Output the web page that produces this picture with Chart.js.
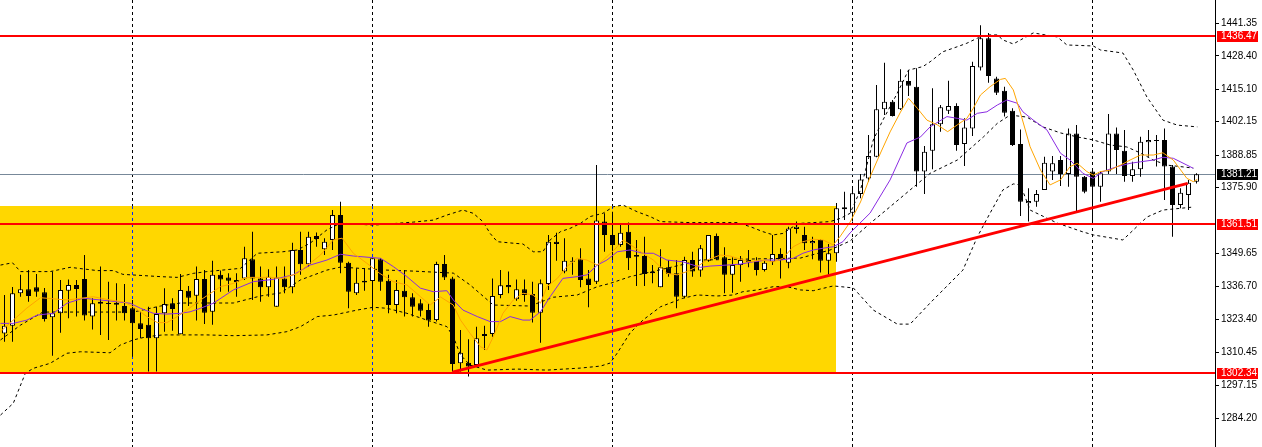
<!DOCTYPE html>
<html>
<head>
<meta charset="utf-8">
<script src="https://cdn.jsdelivr.net/npm/chart.js@4.4.1/dist/chart.umd.min.js"></script>
<style>
  html, body { margin: 0; padding: 0; background: #fff; }
  #wrap { width: 1262px; height: 447px; position: relative; }
</style>
</head>
<body>
<div id="wrap"><canvas id="chart"></canvas></div>
<script>
// ── Bars (oldest first) ─────────────────────────────────────────────
const OPEN = [
  1317.9, 1320.9, 1333.9, 1335.5, 1336.3, 1334.3, 1324.3, 1325.9, 1334.9, 1337.2,
  1339.6, 1324.6, 1330.5, 1330.0, 1330.1, 1328.8, 1327.9, 1321.9, 1321.3, 1316.0,
  1325.9, 1329.9, 1317.6, 1334.9, 1332.9, 1339.6, 1326.5, 1341.2, 1340.2, 1339.2,
  1339.8, 1347.4, 1339.8, 1336.3, 1328.5, 1339.8, 1336.3, 1351.1, 1345.4, 1356.7,
  1351.4, 1355.1, 1365.0, 1346.0, 1333.9, 1338.9, 1338.8, 1347.4, 1338.9, 1329.2,
  1334.9, 1332.3, 1329.9, 1327.2, 1323.2, 1345.5, 1339.8, 1306.0, 1306.2, 1305.3,
  1316.9, 1317.7, 1333.2, 1337.2, 1331.5, 1335.5, 1333.6, 1326.1, 1337.6, 1354.4,
  1342.5, 1346.8, 1347.4, 1339.8, 1338.5, 1362.4, 1357.1, 1353.1, 1358.4, 1349.1,
  1348.7, 1342.5, 1336.3, 1344.2, 1341.8, 1332.5, 1347.1, 1342.9, 1346.8, 1356.7,
  1348.2, 1341.2, 1345.1, 1347.1, 1346.8, 1343.1, 1346.4, 1349.5, 1346.0, 1359.5,
  1357.1, 1353.8, 1355.1, 1346.8, 1349.8, 1368.1, 1365.9, 1373.4, 1379.6, 1388.2,
  1407.1, 1410.1, 1407.1, 1418.4, 1416.1, 1382.3, 1390.6, 1401.1, 1406.5, 1408.4,
  1393.3, 1399.5, 1423.7, 1435.4, 1419.4, 1414.5, 1406.5, 1393.3, 1369.7, 1370.3,
  1375.0, 1382.3, 1386.9, 1381.3, 1397.5, 1380.3, 1382.3, 1376.3, 1382.3, 1397.5,
  1390.6, 1380.6, 1383.2, 1394.0, 1394.9, 1394.9, 1384.3, 1369.0, 1373.0, 1378.3
];
const HIGH = [
  1333.2, 1336.4, 1341.2, 1343.1, 1341.5, 1336.0, 1342.5, 1339.2, 1339.4, 1339.2,
  1349.1, 1331.9, 1344.5, 1338.5, 1337.9, 1337.6, 1331.2, 1326.5, 1328.5, 1328.5,
  1335.9, 1331.9, 1341.5, 1336.8, 1344.5, 1343.1, 1346.8, 1342.9, 1341.8, 1341.8,
  1352.4, 1358.4, 1344.5, 1343.4, 1344.5, 1344.5, 1354.0, 1358.4, 1358.4, 1358.1,
  1355.8, 1367.0, 1370.3, 1346.4, 1343.8, 1343.8, 1347.8, 1347.8, 1341.2, 1339.2,
  1343.1, 1333.9, 1331.5, 1329.9, 1346.4, 1349.1, 1340.5, 1319.3, 1315.6, 1320.6,
  1320.9, 1339.8, 1343.1, 1342.5, 1339.4, 1339.4, 1338.5, 1339.4, 1357.1, 1358.0,
  1355.8, 1348.2, 1351.8, 1343.1, 1384.9, 1365.7, 1366.3, 1361.7, 1362.0, 1355.1,
  1356.4, 1345.1, 1351.4, 1347.1, 1347.1, 1348.4, 1350.4, 1353.1, 1357.1, 1357.7,
  1352.2, 1348.2, 1348.7, 1351.1, 1348.2, 1347.1, 1357.1, 1351.8, 1360.4, 1362.4,
  1360.4, 1356.4, 1355.4, 1353.5, 1369.8, 1374.3, 1375.8, 1381.3, 1396.9, 1416.8,
  1425.6, 1410.8, 1423.0, 1422.7, 1423.4, 1392.5, 1415.5, 1408.8, 1418.5, 1409.5,
  1403.5, 1426.0, 1440.6, 1437.5, 1420.1, 1416.1, 1407.5, 1399.1, 1375.7, 1375.0,
  1388.2, 1388.5, 1388.5, 1399.5, 1400.8, 1380.6, 1383.2, 1382.3, 1405.2, 1399.9,
  1398.9, 1386.2, 1396.2, 1398.9, 1396.9, 1399.5, 1384.9, 1375.7, 1379.0, 1381.6
];
const LOW = [
  1314.6, 1314.6, 1332.5, 1330.5, 1332.5, 1322.6, 1309.0, 1318.2, 1323.9, 1324.6,
  1323.0, 1319.5, 1317.3, 1315.3, 1323.0, 1323.0, 1308.6, 1316.0, 1302.7, 1302.7,
  1318.6, 1319.0, 1317.6, 1328.8, 1323.0, 1321.6, 1321.3, 1334.5, 1334.5, 1332.5,
  1339.2, 1331.2, 1330.5, 1332.5, 1328.5, 1333.9, 1333.9, 1341.2, 1344.5, 1352.4,
  1349.1, 1351.1, 1341.8, 1327.9, 1333.2, 1334.9, 1327.2, 1334.9, 1325.9, 1325.9,
  1324.6, 1324.6, 1324.6, 1320.6, 1322.6, 1339.2, 1302.7, 1302.7, 1300.7, 1304.7,
  1311.3, 1316.6, 1331.9, 1333.9, 1330.9, 1330.5, 1322.2, 1314.2, 1335.2, 1346.8,
  1341.8, 1341.2, 1336.3, 1328.3, 1337.6, 1350.4, 1347.1, 1352.4, 1343.1, 1336.8,
  1336.8, 1337.9, 1336.3, 1340.5, 1327.9, 1331.9, 1340.5, 1340.5, 1346.4, 1347.1,
  1333.9, 1334.1, 1338.5, 1344.2, 1340.9, 1342.5, 1345.1, 1339.8, 1343.8, 1357.7,
  1351.1, 1347.4, 1342.1, 1341.2, 1346.4, 1363.0, 1362.4, 1371.7, 1378.3, 1388.0,
  1404.8, 1404.2, 1406.8, 1412.4, 1376.3, 1373.4, 1383.2, 1398.2, 1405.2, 1390.6,
  1384.5, 1396.5, 1422.5, 1417.7, 1412.8, 1404.2, 1392.5, 1364.6, 1362.4, 1368.3,
  1375.0, 1379.0, 1376.6, 1376.3, 1365.9, 1373.7, 1361.8, 1370.3, 1381.3, 1381.3,
  1378.3, 1378.3, 1380.3, 1388.2, 1384.3, 1371.0, 1356.4, 1367.7, 1367.0, 1377.6
];
const CLOSE = [
  1320.9, 1333.9, 1335.5, 1332.8, 1334.5, 1323.6, 1325.9, 1335.2, 1337.2, 1335.6,
  1325.0, 1329.9, 1329.7, 1329.6, 1329.3, 1325.9, 1321.9, 1319.7, 1316.0, 1325.6,
  1329.6, 1327.6, 1335.2, 1332.1, 1339.6, 1326.1, 1341.2, 1339.4, 1338.9, 1338.4,
  1347.8, 1339.8, 1336.3, 1340.5, 1340.2, 1336.3, 1351.1, 1345.4, 1356.4, 1355.5,
  1354.4, 1365.0, 1346.0, 1334.5, 1338.1, 1338.2, 1347.8, 1338.5, 1329.2, 1335.2,
  1332.3, 1328.5, 1326.9, 1323.0, 1345.5, 1340.2, 1305.7, 1310.2, 1304.7, 1316.0,
  1317.7, 1332.8, 1337.1, 1336.3, 1335.5, 1333.2, 1326.1, 1337.9, 1354.4, 1353.5,
  1346.8, 1346.4, 1339.2, 1337.2, 1362.8, 1357.1, 1353.1, 1358.0, 1347.8, 1348.4,
  1341.5, 1341.8, 1344.2, 1341.5, 1332.5, 1347.1, 1342.5, 1351.8, 1357.1, 1347.4,
  1341.2, 1345.1, 1347.1, 1346.3, 1343.1, 1346.0, 1349.5, 1347.1, 1359.7, 1360.4,
  1353.8, 1354.7, 1346.8, 1349.8, 1367.7, 1367.3, 1373.7, 1379.2, 1388.5, 1407.1,
  1410.1, 1404.4, 1418.5, 1416.5, 1382.3, 1390.2, 1401.1, 1407.9, 1408.4, 1392.9,
  1399.9, 1424.3, 1435.4, 1420.4, 1413.7, 1405.7, 1392.9, 1370.3, 1370.6, 1373.4,
  1385.8, 1385.6, 1381.3, 1397.5, 1380.3, 1374.3, 1376.3, 1381.6, 1397.5, 1390.9,
  1380.6, 1383.2, 1394.2, 1394.9, 1394.5, 1384.3, 1369.0, 1373.9, 1377.9, 1381.2
];

// ── Indicators as [bar, price] ──────────────────────────────────────
const MA_FAST = [
  [-0.5,1318.6],[1.1,1323.2],[2.8,1328.0],[4.5,1332.1],[7.8,1331.2],[11.1,1332.5],[13.2,1331.2],
  [14.8,1330.5],[16.1,1328.5],[17.8,1324.6],[19.1,1322.2],[20.3,1322.2],[21.6,1324.6],[22.8,1327.2],
  [24.5,1331.2],[27.0,1336.5],[28.6,1337.8],[30.3,1340.2],[32.8,1340.2],[34.8,1339.8],[36.6,1341.8],
  [38.2,1345.8],[39.5,1349.1],[41.1,1355.1],[42.2,1355.8],[43.6,1349.8],[45.3,1345.8],[46.9,1341.8],
  [48.6,1338.5],[50.3,1337.2],[52.0,1332.5],[53.2,1329.2],[54.5,1332.4],[56.1,1329.2],[57.0,1323.2],
  [58.2,1317.9],[59.5,1312.6],[60.3,1311.3],[61.1,1316.6],[62.3,1325.9],[63.6,1331.2],[64.8,1333.9],
  [66.1,1333.2],[67.0,1329.9],[67.8,1336.5],[69.1,1339.8],[70.3,1344.5],[71.6,1347.8],[72.8,1347.1],
  [74.1,1345.1],[75.3,1348.4],[76.6,1352.4],[77.3,1355.1],[78.6,1352.4],[79.8,1349.8],[81.1,1347.1],
  [82.8,1341.8],[84.1,1341.2],[85.3,1342.5],[86.6,1344.5],[87.8,1347.1],[89.5,1349.1],[90.7,1348.7],
  [92.0,1347.4],[93.2,1346.4],[94.5,1347.1],[96.1,1346.4],[97.3,1347.8],[98.6,1352.4],[99.8,1354.4],
  [101.1,1355.4],[102.3,1355.1],[103.6,1353.1],[104.5,1356.7],[105.7,1362.2],[107.0,1370.2],[108.2,1380.2],
  [109.5,1389.7],[110.7,1398.1],[112.0,1406.0],[113.0,1411.5],[114.1,1407.5],[115.3,1402.8],[116.6,1400.9],
  [117.9,1398.2],[119.1,1400.9],[120.3,1403.5],[121.1,1407.5],[122.0,1412.8],[123.2,1416.1],[124.5,1419.0],
  [125.1,1419.4],[126.1,1414.8],[127.0,1405.6],[128.2,1392.2],[129.5,1382.9],[130.7,1377.0],[132.0,1379.0],
  [133.2,1384.3],[134.1,1385.6],[135.3,1382.3],[136.1,1380.9],[137.0,1382.3],[138.2,1382.9],[139.5,1384.9],
  [140.7,1386.9],[142.0,1388.9],[143.6,1388.9],[144.8,1389.8],[146.1,1386.9],[147.8,1379.6],[148.6,1378.3],
  [149.1,1379.2]
];
const MA_SLOW = [
  [-0.5,1321.9],[1.1,1321.9],[2.8,1323.2],[4.1,1325.2],[6.1,1325.9],[7.8,1329.9],[9.8,1331.9],
  [12.0,1331.2],[14.1,1330.5],[15.7,1329.9],[17.0,1327.9],[18.6,1325.9],[20.3,1325.6],[22.0,1325.9],
  [23.2,1326.5],[24.5,1327.9],[26.1,1329.9],[28.6,1335.2],[31.1,1338.5],[33.6,1339.4],[36.1,1341.2],
  [38.2,1345.1],[40.3,1347.1],[42.0,1349.4],[43.6,1348.7],[47.0,1347.8],[48.6,1344.5],[50.3,1340.5],
  [52.0,1335.9],[53.6,1334.5],[55.3,1334.9],[56.1,1331.2],[57.3,1327.2],[59.1,1324.6],[60.7,1322.6],
  [62.0,1322.6],[63.2,1324.6],[64.8,1323.2],[65.7,1323.2],[67.0,1326.5],[68.2,1332.5],[69.8,1339.8],
  [71.6,1340.5],[72.8,1341.2],[74.1,1345.1],[75.3,1347.1],[76.6,1350.4],[78.2,1351.1],[79.8,1349.8],
  [81.1,1349.8],[82.8,1347.1],[84.8,1346.4],[87.0,1344.2],[88.2,1344.7],[90.3,1345.1],[92.0,1345.5],
  [93.6,1346.4],[95.3,1347.1],[97.0,1347.1],[98.6,1347.8],[99.8,1349.8],[101.1,1351.1],[102.3,1351.8],
  [103.6,1352.4],[104.8,1354.4],[105.7,1357.9],[108.2,1365.8],[110.7,1379.0],[112.8,1393.7],[114.5,1396.1],
  [115.7,1400.1],[117.8,1404.2],[119.1,1403.5],[120.3,1402.8],[121.6,1405.5],[122.8,1406.1],[124.1,1408.8],
  [125.3,1410.8],[126.6,1409.5],[127.3,1406.1],[128.6,1402.8],[130.3,1398.9],[132.0,1389.6],[133.2,1386.9],
  [134.8,1381.6],[136.1,1379.6],[137.3,1382.3],[139.1,1384.3],[140.7,1385.6],[142.0,1386.2],[143.6,1386.9],
  [144.8,1388.0],[146.1,1387.6],[147.8,1384.9],[148.6,1383.6]
];
const BB_UPPER = [
  [-0.5,1345.1],[1.0,1346.0],[2.0,1342.5],[5.7,1342.5],[8.2,1344.2],[11.6,1342.9],[13.6,1342.9],
  [14.8,1341.4],[19.5,1340.5],[21.6,1340.2],[23.6,1341.8],[25.3,1342.5],[29.5,1343.8],[31.6,1349.8],
  [34.8,1350.4],[36.6,1351.1],[38.2,1353.8],[40.3,1359.1],[42.0,1361.8],[46.1,1361.0],[51.1,1362.2],
  [53.6,1363.0],[55.3,1365.0],[57.3,1367.0],[58.6,1365.7],[59.8,1362.4],[60.7,1357.7],[61.6,1354.4],
  [63.6,1353.8],[64.8,1353.5],[66.1,1350.4],[67.3,1350.4],[68.2,1355.1],[69.5,1358.4],[70.7,1359.7],
  [72.0,1361.7],[73.2,1364.4],[74.8,1365.7],[76.1,1368.3],[77.3,1369.0],[79.1,1366.3],[80.7,1364.4],
  [82.0,1362.4],[85.7,1362.0],[91.6,1362.0],[93.2,1360.4],[94.8,1358.4],[96.1,1357.1],[97.3,1357.7],
  [98.6,1360.4],[99.5,1361.7],[103.2,1362.4],[104.5,1363.7],[105.7,1365.7],[107.0,1375.0],[108.6,1394.9],
  [109.8,1402.8],[111.6,1413.5],[113.0,1422.7],[114.8,1424.1],[115.7,1426.0],[117.3,1430.0],[119.1,1432.0],
  [120.3,1433.4],[121.6,1435.4],[122.8,1436.7],[124.1,1436.7],[124.8,1434.7],[126.1,1433.1],[127.0,1434.7],
  [128.6,1437.5],[131.6,1435.9],[132.8,1432.7],[136.1,1432.3],[137.0,1430.7],[139.8,1429.5],[141.1,1422.7],
  [142.8,1412.0],[144.8,1402.8],[146.6,1400.8],[149.1,1400.1]
];
const BB_MID = [
  [-0.5,1315.3],[2.0,1321.2],[4.8,1326.4],[16.1,1326.4],[19.5,1328.8],[22.0,1330.0],[28.6,1330.0],
  [32.0,1332.8],[34.5,1334.0],[37.0,1339.2],[40.3,1343.1],[42.0,1344.3],[47.8,1343.1],[51.1,1342.7],
  [56.1,1341.9],[58.2,1337.2],[61.1,1329.2],[65.7,1328.8],[68.6,1332.3],[71.6,1333.2],[74.1,1336.5],
  [75.7,1337.8],[78.2,1340.5],[80.7,1342.3],[84.5,1345.1],[87.0,1347.1],[93.2,1347.5],[99.5,1347.9],
  [103.2,1351.1],[105.7,1354.7],[108.2,1361.7],[110.7,1368.3],[113.2,1375.0],[115.7,1381.6],[119.1,1386.9],
  [122.4,1396.2],[124.1,1401.5],[125.7,1404.8],[127.8,1404.0],[129.8,1400.1],[132.0,1397.7],[134.1,1396.1],
  [136.1,1394.9],[138.2,1392.9],[140.3,1392.1],[142.0,1389.7],[143.6,1386.9],[145.3,1384.9],[148.6,1383.7]
];
const BB_LOWER = [
  [-0.5,1285.4],[1.1,1290.1],[2.6,1302.0],[3.6,1304.0],[5.7,1306.0],[7.8,1310.0],[9.5,1310.6],
  [13.2,1310.2],[14.5,1313.3],[16.1,1315.3],[17.8,1316.6],[19.8,1317.3],[25.3,1317.3],[28.6,1317.0],
  [32.8,1317.3],[35.3,1318.6],[37.0,1320.6],[39.1,1324.6],[41.1,1325.2],[44.1,1327.2],[46.1,1328.3],
  [47.8,1327.9],[50.3,1325.9],[52.8,1323.2],[55.3,1320.6],[56.1,1316.6],[57.0,1309.3],[58.2,1305.3],
  [60.3,1303.3],[64.1,1303.7],[67.8,1303.3],[72.0,1304.1],[74.5,1304.9],[75.7,1306.1],[76.6,1310.1],
  [78.2,1318.1],[79.8,1323.2],[82.0,1328.5],[84.8,1331.9],[86.6,1333.2],[89.1,1332.8],[91.1,1333.2],
  [92.3,1334.5],[94.1,1335.2],[96.1,1336.5],[97.8,1336.5],[99.5,1335.2],[101.1,1334.9],[103.6,1336.8],
  [106.1,1336.0],[108.6,1327.2],[111.6,1321.6],[113.2,1321.6],[115.7,1330.0],[119.8,1343.1],[121.6,1356.3],
  [123.2,1365.8],[124.8,1375.0],[126.1,1377.4],[127.0,1377.0],[128.2,1367.0],[131.6,1361.8],[134.8,1358.3],
  [136.1,1357.1],[139.8,1355.1],[142.8,1364.2],[144.8,1367.0],[148.6,1368.2]
];

// ── Drawn objects and axis ──────────────────────────────────────────
const LEVELS    = [1436.47, 1361.51, 1302.34];
const BID       = 1381.21;
const TREND     = [[56.0, 1302.5], [147.9, 1377.6]];
const ZONE      = { from: -1, to: 103.9, low: 1302.34, high: 1368.6 };
const GRID_BARS = [16, 46, 76, 106, 136];
const Y_TICKS   = [1441.35, 1428.40, 1415.10, 1402.15, 1388.85, 1375.90,
                   1349.65, 1336.70, 1323.40, 1310.45, 1297.15, 1284.20];

const FONT = '"Liberation Sans", Arial, sans-serif';
const pts  = arr => arr.map(([x, y]) => ({ x, y }));

// zone rectangle, period separators, bid line
const backPlugin = {
  id: 'back',
  beforeDatasetsDraw(chart) {
    const { ctx, chartArea: a, scales: { x, y } } = chart;
    const x1 = Math.max(a.left, x.getPixelForValue(ZONE.from));
    const x2 = Math.round(x.getPixelForValue(ZONE.to));
    const yT = Math.round(y.getPixelForValue(ZONE.high));
    const yB = Math.round(y.getPixelForValue(ZONE.low));
    ctx.save();
    ctx.fillStyle = '#FFD700';
    ctx.fillRect(x1, yT, x2 - x1, yB - yT);

    ctx.lineWidth = 1;
    ctx.setLineDash([3, 3]);
    const seg = (px, from, to, color) => {
      ctx.strokeStyle = color;
      ctx.beginPath(); ctx.moveTo(px, from); ctx.lineTo(px, to); ctx.stroke();
    };
    GRID_BARS.forEach(b => {
      const px = Math.floor(x.getPixelForValue(b)) + 0.5;
      if (px < x2) {
        seg(px, a.top, yT, '#000');
        seg(px, yT, yB, '#0028FF');
        seg(px, yB, a.bottom, '#000');
      } else {
        seg(px, a.top, a.bottom, '#000');
      }
    });

    ctx.setLineDash([]);
    const by = Math.round(y.getPixelForValue(BID)) + 0.5;
    ctx.strokeStyle = '#778899';
    ctx.beginPath(); ctx.moveTo(a.left, by); ctx.lineTo(a.right, by); ctx.stroke();
    ctx.restore();
  }
};

// horizontal levels on top + price tags on the axis
const levelPlugin = {
  id: 'levels',
  afterDatasetsDraw(chart) {
    const { ctx, chartArea: a, scales: { y } } = chart;
    ctx.save();
    ctx.strokeStyle = '#FF0000';
    ctx.lineWidth = 2;
    LEVELS.forEach(v => {
      const py = Math.round(y.getPixelForValue(v));
      ctx.beginPath(); ctx.moveTo(a.left, py); ctx.lineTo(a.right, py); ctx.stroke();
    });
    ctx.restore();
  },
  afterDraw(chart) {
    const { ctx, chartArea: a, scales: { y } } = chart;
    const tag = (v, bg) => {
      const py = Math.round(y.getPixelForValue(v));
      ctx.fillStyle = bg;
      ctx.fillRect(a.right + 2, py - 5, 41, 11);
      ctx.fillStyle = '#fff';
      ctx.fillText(v.toFixed(2), a.right + 6, py + 0.5);
    };
    ctx.save();
    ctx.font = '10px ' + FONT;
    ctx.textBaseline = 'middle';
    LEVELS.forEach(v => tag(v, '#FF0000'));
    tag(BID, '#000');
    ctx.restore();
  }
};

const line = (data, color, order, dash) => ({
  type: 'line',
  data: pts(data),
  borderColor: color,
  borderWidth: 1,
  borderDash: dash || [],
  pointRadius: 0,
  tension: 0,
  fill: false,
  order
});

new Chart(document.getElementById('chart'), {
  type: 'bar',
  data: {
    datasets: [
      // wicks
      {
        data: HIGH.map((h, i) => ({ x: i, y: [LOW[i], h] })),
        backgroundColor: '#000',
        borderWidth: 0,
        barThickness: 1,
        grouped: false,
        inflateAmount: 0,
        order: 7
      },
      // bodies
      {
        data: OPEN.map((o, i) => ({ x: i, y: [o, CLOSE[i]] })),
        backgroundColor: CLOSE.map((c, i) => c >= OPEN[i] ? '#fff' : '#000'),
        borderColor: '#000',
        borderWidth: 1,
        borderSkipped: false,
        barThickness: 5,
        minBarLength: 1,
        grouped: false,
        inflateAmount: 0,
        order: 6
      },
      line(BB_UPPER, '#000', 5, [3, 3]),
      line(BB_MID,   '#000', 5, [3, 3]),
      line(BB_LOWER, '#000', 5, [3, 3]),
      line(MA_SLOW,  '#8A2BE2', 4),
      line(MA_FAST,  '#FFA500', 3),
      { ...line(TREND, '#FF0000', 1), borderWidth: 3 }
    ]
  },
  options: {
    responsive: true,
    maintainAspectRatio: false,
    animation: false,
    devicePixelRatio: 1,
    layout: { padding: 0 },
    plugins: { legend: { display: false }, tooltip: { enabled: false } },
    scales: {
      x: { type: 'linear', display: false, offset: false, min: -0.5625, max: 151.3125 },
      y: {
        position: 'right',
        min: 1272.69, max: 1450.60,
        bounds: 'data',
        afterBuildTicks: s => { s.ticks = Y_TICKS.map(v => ({ value: v })); },
        afterFit: s => { s.width = 47; s.paddingTop = 0; s.paddingBottom = 0; },
        grid: { drawOnChartArea: false, drawTicks: true, tickLength: 4, tickColor: '#000' },
        border: { display: true, color: '#000' },
        ticks: {
          color: '#000', padding: 2, autoSkip: false,
          font: { family: FONT, size: 10 },
          callback: v => Number(v).toFixed(2)
        }
      }
    }
  },
  plugins: [backPlugin, levelPlugin]
});
</script>
</body>
</html>
